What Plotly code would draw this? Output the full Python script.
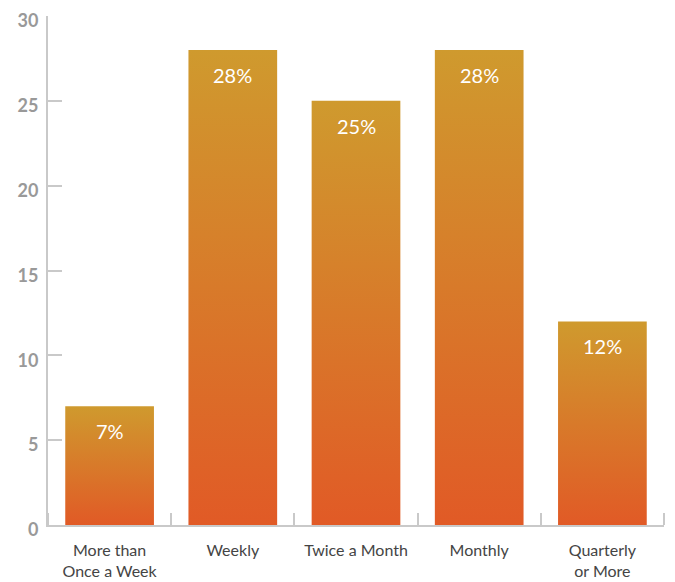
import plotly.graph_objects as go

categories = ["More than<br>Once a Week", "Weekly", "Twice a Month", "Monthly", "Quarterly<br>or More"]
values = [7, 28, 25, 28, 12]
bar_labels = ["7%", "28%", "25%", "28%", "12%"]
y_ticks = [0, 5, 10, 15, 20, 25, 30]

BAR_WIDTH = 0.72
GRADIENT = [[0, "#E15A26"], [1, "#CF9A2E"]]
AXIS_GREY = "#C9C9C9"

fig = go.Figure()

# Each bar is a filled rectangle so it can carry a vertical gradient
for i, v in enumerate(values):
    x0, x1 = i - BAR_WIDTH / 2, i + BAR_WIDTH / 2
    fig.add_trace(go.Scatter(
        x=[x0, x1, x1, x0, x0],
        y=[0, 0, v, v, 0],
        mode="lines",
        line=dict(width=0),
        fill="toself",
        fillgradient=dict(type="vertical", colorscale=GRADIENT),
        hoverinfo="skip",
        showlegend=False,
    ))
    fig.add_annotation(
        x=i, y=v, text=bar_labels[i], showarrow=False,
        yshift=-25, yanchor="middle",
        font=dict(family="Lato", size=20, color="#FFFFFF"),
    )

boundaries = [i - 0.5 for i in range(len(categories) + 1)]

fig.update_layout(
    width=675, height=582,
    margin=dict(l=48, r=11, t=16, b=57),
    plot_bgcolor="white", paper_bgcolor="white",
    xaxis=dict(
        range=[-0.5, len(categories) - 0.5],
        tickmode="array", tickvals=list(range(len(categories))), ticktext=categories,
        ticks="", showgrid=False, zeroline=False,
        showline=True, linecolor=AXIS_GREY, linewidth=2,
        tickfont=dict(family="Lato", size=16, color="#444444"),
        ticklabelstandoff=10,
        minor=dict(tickmode="array", tickvals=boundaries, ticks="inside",
                   ticklen=12, tickcolor=AXIS_GREY, tickwidth=2, showgrid=False),
        automargin=False,
        fixedrange=True,
    ),
    yaxis=dict(
        range=[0, 30],
        tickmode="array", tickvals=y_ticks,
        ticks="inside", ticklen=14, tickcolor=AXIS_GREY, tickwidth=2,
        showgrid=False, zeroline=False,
        showline=True, linecolor=AXIS_GREY, linewidth=2,
        tickfont=dict(family="Lato", size=18, color="#999999", weight="bold"),
        ticklabelstandoff=4,
        ticklabelshift=5,
        automargin=False,
        fixedrange=True,
    ),
)

fig.write_html("out.html")
